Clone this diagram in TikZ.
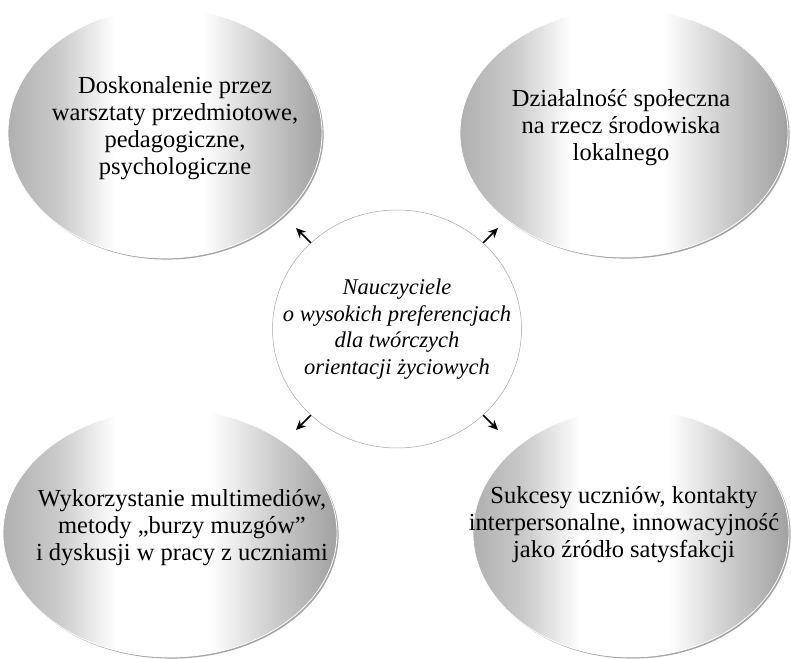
\documentclass[tikz,border=0pt]{standalone}
\usepackage{fontspec}
\setmainfont{Liberation Serif}
\usetikzlibrary{shapes.geometric,calc,arrows.meta}
% grey sides, white band down the middle
\pgfdeclarehorizontalshading{cyl}{100bp}{color(0bp)=(gray!62); color(25bp)=(gray!62);
  color(33bp)=(gray!42); color(42bp)=(white); color(56bp)=(white);
  color(66bp)=(gray!42); color(75bp)=(gray!74); color(100bp)=(gray!74)}
\begin{document}
\begin{tikzpicture}[x=1pt,y=1pt,
  blob/.style={ellipse, inner sep=0pt, shading=cyl,
    draw=white, line width=0.8pt,
    preaction={fill=gray!70, transform canvas={shift={(1.6pt,-1.6pt)}}}},
  hub/.style={ellipse, inner sep=0pt, fill=white, draw=gray!70, line width=0.5pt},
  blobtext/.style={align=center, font=\fontsize{24.5}{27}\selectfont},
  hubtext/.style={align=center, font=\itshape\fontsize{22.5}{26.5}\selectfont},
  arr/.style={-{Stealth[length=10pt,width=9pt]}, line width=1.6pt}]
\useasboundingbox (0,0) rectangle (791,658);

% four shaded ovals
\node[blob, minimum width=314pt, minimum height=250pt] (tl) at (165,525) {};
\node[blob, minimum width=328pt, minimum height=248pt] (tr) at (624,525) {};
\node[blob, minimum width=334pt, minimum height=248pt] (bl) at (170,125) {};
\node[blob, minimum width=316pt, minimum height=248pt] (br) at (631,125) {};

% central oval
\node[hub, minimum width=249pt, minimum height=238pt] (c) at (397,329) {};

% labels
\node[blobtext] (ttl) at (175,530) {Doskonalenie przez\\warsztaty przedmiotowe,\\pedagogiczne,\\psychologiczne};
\node[blobtext] (ttr) at (621,530) {Działalność społeczna\\na rzecz środowiska\\lokalnego};
\node[blobtext] (tbl) at (182,130) {Wykorzystanie multimediów,\\metody „burzy muzgów”\\i dyskusji w pracy z uczniami};
\node[blobtext] (tbr) at (624,133) {Sukcesy uczniów, kontakty\\interpersonalne, innowacyjność\\jako źródło satysfakcji};
\node[hubtext] (tc) at (397,329) {Nauczyciele\\o wysokich preferencjach\\dla twórczych\\orientacji życiowych};

% short outward arrows
\foreach \a/\n in {135/a1, 45/a2, 225/a3, 315/a4}
  \coordinate (\n) at ($(c.\a)+(\a:21)$);
\draw[arr] (c.135) -- (a1);
\draw[arr] (c.45) -- (a2);
\draw[arr] (c.225) -- (a3);
\draw[arr] (c.315) -- (a4);
\end{tikzpicture}
\end{document}
